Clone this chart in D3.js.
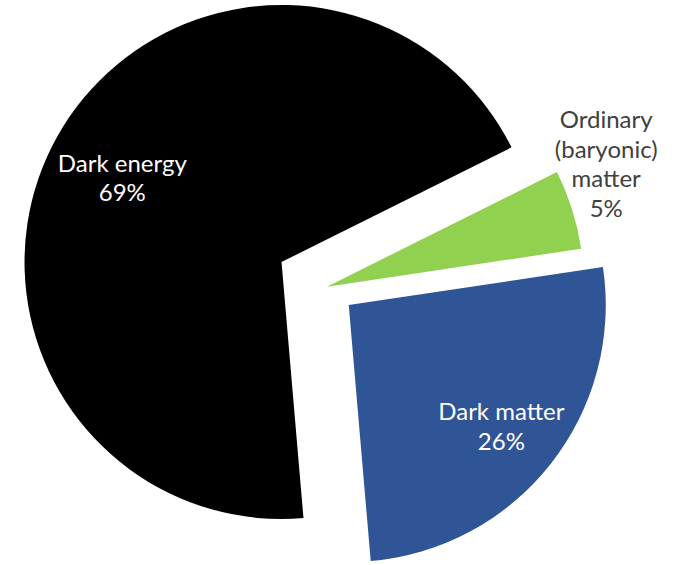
<!DOCTYPE html>
<html>
<head>
<meta charset="utf-8">
<script src="https://cdn.jsdelivr.net/npm/d3@7"></script>
<style>
  html, body { margin: 0; padding: 0; background: #ffffff; }
  svg { display: block; }
</style>
</head>
<body>
<svg id="chart" width="676" height="565"></svg>
<script>
// Composition of the universe (share of total energy density, %)
const components = ["Ordinary (baryonic) matter", "Dark matter", "Dark energy"];
const shares = [5, 26, 69];
const labelNames = [["Ordinary", "(baryonic)", "matter"], ["Dark matter"], ["Dark energy"]];
const sliceColors = ["#92d050", "#2f5597", "#000000"];

const svg = d3.select("#chart");
const width = 676, height = 565;

// Pie geometry
const cx = 326, cy = 287;
const radius = 257;
const startDeg = 63.5;
const toRad = d => d * Math.PI / 180;

// How far each slice is pulled out along its bisector
const explodeBy = [1, 29, 51];

// Label placement: distance from the slice tip, angle nudge, text colour
const labelLayout = [
  { r: 305, nudge: -6.2, fill: "#404040" },
  { r: 195, nudge: 0.2, fill: "#ffffff" },
  { r: 180, nudge: -1.5, fill: "#ffffff" }
];

const rows = components.map((name, i) => ({ name, value: shares[i], i }));

const pie = d3.pie()
  .value(d => d.value)
  .sort(null)
  .startAngle(toRad(startDeg))
  .endAngle(toRad(startDeg) + 2 * Math.PI);

const arc = d3.arc().innerRadius(0).outerRadius(radius);

const arcs = pie(rows);

const unit = a => [Math.sin(a), -Math.cos(a)];

const g = svg.append("g").attr("transform", `translate(${cx},${cy})`);

const slices = g.selectAll("g.slice")
  .data(arcs)
  .join("g")
  .attr("class", "slice")
  .attr("transform", d => {
    const mid = (d.startAngle + d.endAngle) / 2;
    const [ux, uy] = unit(mid);
    const k = explodeBy[d.data.i];
    return `translate(${ux * k},${uy * k})`;
  });

slices.append("path")
  .attr("d", arc)
  .attr("fill", d => sliceColors[d.data.i]);

// Labels
const fontSize = 24;
const lineH = 29.5;
const cap = 0.72 * fontSize;

slices.each(function(d) {
  const i = d.data.i;
  const L = labelLayout[i];
  const mid = (d.startAngle + d.endAngle) / 2 + toRad(L.nudge);
  const [ux, uy] = unit(mid);
  const lx = ux * L.r, ly = uy * L.r;
  const lines = labelNames[i].concat([`${d.data.value}%`]);
  const n = lines.length;
  const t = d3.select(this).append("text")
    .attr("text-anchor", "middle")
    .attr("fill", L.fill)
    .style("font-family", "Lato, 'Noto Sans', sans-serif")
    .style("font-size", fontSize + "px");
  lines.forEach((s, k) => {
    t.append("tspan")
      .attr("x", lx)
      .attr("y", ly + (k - (n - 1) / 2) * lineH + cap / 2)
      .text(s);
  });
});
</script>
</body>
</html>
